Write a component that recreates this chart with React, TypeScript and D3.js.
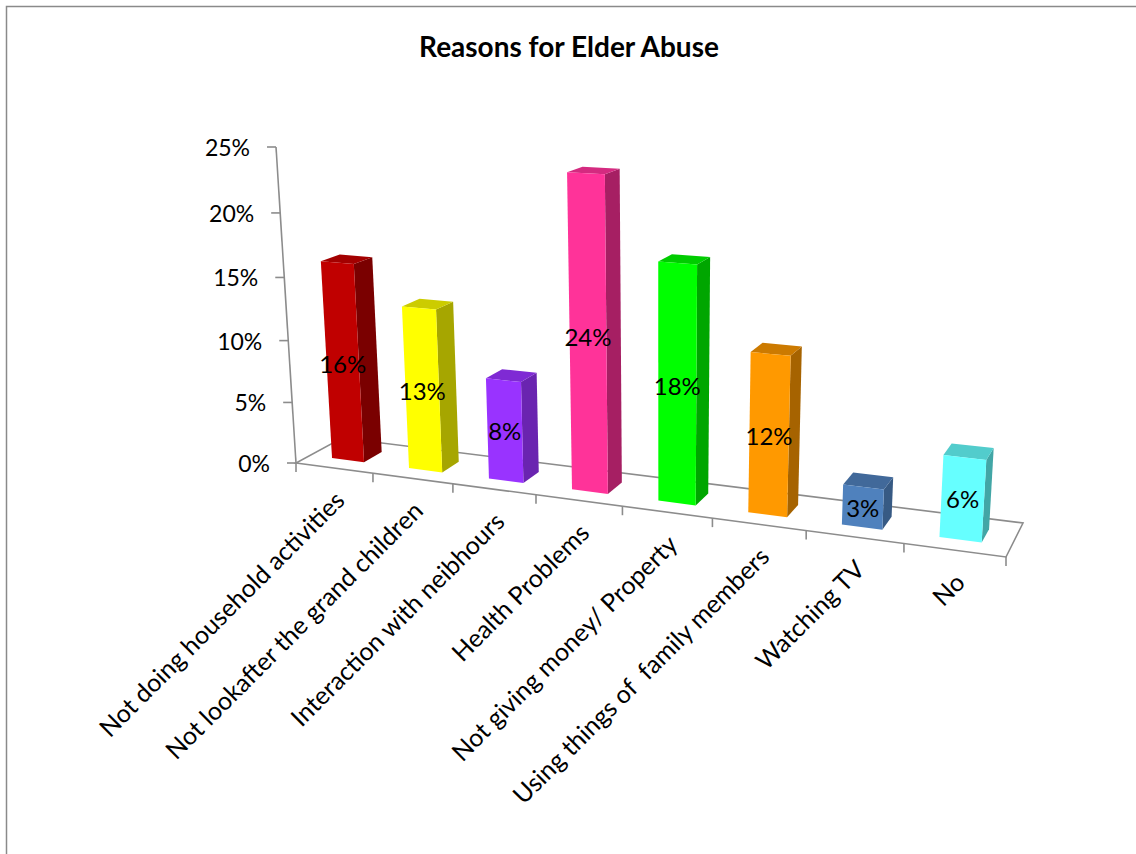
import React from 'react';
import * as d3 from 'd3';

const title = 'Reasons for Elder Abuse';
const categories = [
  'Not doing household activities',
  'Not lookafter the grand children',
  'Interaction with neibhours',
  'Health Problems',
  'Not giving money/ Property',
  'Using things of  family members',
  'Watching TV',
  'No',
];
const values = [16, 13, 8, 24, 18, 12, 3, 6];
const valueLabels = ['16%', '13%', '8%', '24%', '18%', '12%', '3%', '6%'];
const yTicks = [0, 5, 10, 15, 20, 25];
const frontColors = ['#C00000', '#FFFF00', '#9933FF', '#FF3399', '#00FF00', '#FF9900', '#4F81BD', '#66FFFF'];
const sideColors = ['#7A0000', '#A6A600', '#6A24B0', '#A61F63', '#00A600', '#A66300', '#375A84', '#42A6A6'];
const topColors = ['#A30000', '#CCCC00', '#7F2AD4', '#D42A80', '#00CC00', '#CC7A00', '#41699A', '#52CCCC'];

// ---- projection (layout constants) ----
type P = [number, number];
const FL: P = [296, 463];
const FR: P = [1006, 557];
const BR: P = [1023, 523];
const BL: P = [342, 438];
const VV: P = [662, 6250]; // vertical vanishing point
const AXIS_TOP_Y = 147;
const W0 = 0.3;
const W1 = 0.7;

function homography(p0: P, p1: P, p2: P, p3: P) {
  const dx1 = p1[0] - p2[0], dx2 = p3[0] - p2[0], dx3 = p0[0] - p1[0] + p2[0] - p3[0];
  const dy1 = p1[1] - p2[1], dy2 = p3[1] - p2[1], dy3 = p0[1] - p1[1] + p2[1] - p3[1];
  const den = dx1 * dy2 - dx2 * dy1;
  const g = (dx3 * dy2 - dx2 * dy3) / den;
  const h = (dx1 * dy3 - dx3 * dy1) / den;
  return {
    a: p1[0] - p0[0] + g * p1[0],
    b: p3[0] - p0[0] + h * p3[0],
    c: p0[0],
    d: p1[1] - p0[1] + g * p1[1],
    e: p3[1] - p0[1] + h * p3[1],
    f: p0[1],
    g,
    h,
  };
}
const H = homography(FL, FR, BR, BL);
const lam = (AXIS_TOP_Y - H.f) / (VV[1] - AXIS_TOP_Y);

function project(u: number, w: number, t: number): P {
  const den = H.g * u + H.h * w + 1 + lam * t;
  return [
    (H.a * u + H.b * w + H.c + lam * t * VV[0]) / den,
    (H.d * u + H.e * w + H.f + lam * t * VV[1]) / den,
  ];
}
const pts = (arr: P[]) => arr.map((p) => p.join(',')).join(' ');

const xBand = d3.scaleBand<string>().domain(categories).range([0, 1]).paddingInner(0.58).paddingOuter(0.29);
const yScale = d3.scaleLinear().domain([0, 25]).range([0, 1]);

const FONT = 'Lato, "Open Sans", sans-serif';
const AXIS_COLOR = '#8c8c8c';

export default function App() {
  const step = xBand.step();
  const bw = xBand.bandwidth();
  const floorFL = project(0, 0, 0);
  const floorFR = project(1, 0, 0);
  const floorBR = project(1, 1, 0);
  const floorBL = project(0, 1, 0);
  const axisTop = project(0, 0, yScale(25));

  return (
    <svg width={1136} height={854} style={{ position: 'absolute', left: 0, top: 0, background: '#fff' }}>
      <rect x={6.5} y={6.5} width={1200} height={900} fill="#fff" stroke="#8a8a8a" strokeWidth={1.5} />
      <text x={569} y={57} textAnchor="middle" fontFamily={FONT} fontWeight={700} fontSize={28} fill="#000">
        {title}
      </text>

      {/* floor */}
      <polygon points={pts([floorFL, floorFR, floorBR, floorBL])} fill="none" stroke={AXIS_COLOR} strokeWidth={1.6} />
      {d3.range(categories.length + 1).map((k) => {
        const p = project(k * step, 0, 0);
        return <line key={'ct' + k} x1={p[0]} y1={p[1]} x2={p[0]} y2={p[1] + 9} stroke={AXIS_COLOR} strokeWidth={1.6} />;
      })}

      {/* value axis */}
      <line x1={floorFL[0]} y1={floorFL[1]} x2={axisTop[0]} y2={axisTop[1]} stroke={AXIS_COLOR} strokeWidth={1.6} />
      {yTicks.map((v) => {
        const p = project(0, 0, yScale(v));
        return (
          <g key={'yt' + v}>
            <line x1={p[0] - 9} y1={p[1]} x2={p[0]} y2={p[1]} stroke={AXIS_COLOR} strokeWidth={1.6} />
            <text x={p[0] - 26} y={p[1]} textAnchor="end" dominantBaseline="central" fontFamily={FONT} fontSize={23} fill="#000">
              {v + '%'}
            </text>
          </g>
        );
      })}

      {/* bars */}
      {categories.map((c, i) => {
        const u0 = xBand(c) as number;
        const u1 = u0 + bw;
        const t = yScale(values[i]);
        const front: P[] = [project(u0, W0, 0), project(u1, W0, 0), project(u1, W0, t), project(u0, W0, t)];
        const side: P[] = [project(u1, W0, 0), project(u1, W1, 0), project(u1, W1, t), project(u1, W0, t)];
        const top: P[] = [project(u0, W0, t), project(u1, W0, t), project(u1, W1, t), project(u0, W1, t)];
        return (
          <g key={'bar' + i}>
            <polygon points={pts(side)} fill={sideColors[i]} />
            <polygon points={pts(top)} fill={topColors[i]} />
            <polygon points={pts(front)} fill={frontColors[i]} />
          </g>
        );
      })}
      {categories.map((c, i) => {
        const u0 = xBand(c) as number;
        const t = yScale(values[i]);
        const p = project(u0 + bw / 2, W0, t / 2);
        return (
          <text key={'vl' + i} x={p[0]} y={p[1]} textAnchor="middle" dominantBaseline="central" fontFamily={FONT} fontSize={24} fill="#000">
            {valueLabels[i]}
          </text>
        );
      })}

      {/* category labels */}
      {categories.map((c, i) => {
        const p = project((xBand(c) as number) + bw / 2, 0, 0);
        const ax = p[0] + 5;
        const ay = p[1] + 27;
        return (
          <text
            key={'cl' + i}
            x={ax}
            y={ay}
            textAnchor="end"
            dominantBaseline="central"
            fontFamily={FONT}
            fontSize={25}
            fill="#000"
            transform={`rotate(-45 ${ax} ${ay})`}
            style={{ whiteSpace: 'pre' }}
          >
            {c}
          </text>
        );
      })}
    </svg>
  );
}
